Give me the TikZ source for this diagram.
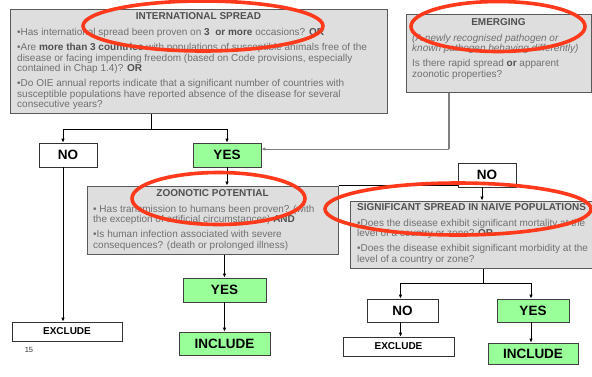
\documentclass[tikz,border=0pt]{standalone}
\usepackage{fontspec}
\setmainfont{Liberation Sans}
\usetikzlibrary{arrows.meta,calc}
\definecolor{boxgray}{RGB}{222,222,222}
\definecolor{txtgray}{RGB}{112,112,112}
\definecolor{ttlgray}{RGB}{80,80,80}
\definecolor{bordgray}{RGB}{90,90,90}
\definecolor{yesgreen}{RGB}{153,255,153}
\definecolor{ringred}{RGB}{255,58,28}
\newcommand\hl[1]{\textbf{\textcolor{ttlgray}{#1}}}
\newcommand\mkbox[7]{\node[#1, minimum width={(#5-#3)*1pt}, minimum height={(#6-#4)*1pt}, inner sep=0pt] (#2) at ({(#3+#5)/2},{(#4+#6)/2}) {#7};}
\begin{document}
\begin{tikzpicture}[x=1pt,y=-1pt,
  graybox/.style={draw=bordgray, line width=1pt, fill=boxgray},
  whitebox/.style={draw=black!80, line width=0.8pt, fill=white, font=\fontsize{13.5}{14}\selectfont\bfseries},
  greenbox/.style={draw=black!75, line width=0.8pt, fill=yesgreen, font=\fontsize{13.5}{14}\selectfont\bfseries},
  smallbox/.style={draw=black!80, line width=0.8pt, fill=white, font=\fontsize{10}{11}\selectfont\bfseries},
  ttl/.style={inner sep=0pt, text=ttlgray, font=\fontsize{10}{11}\selectfont\bfseries},
  body/.style={inner sep=0pt, anchor=north west, align=left, text=txtgray, font=\fontsize{10}{10.4}\selectfont},
  conn/.style={draw=black, line width=0.8pt},
  arr/.style={conn, -{Latex[length=4pt,width=3.6pt]}},
  ring/.style={draw=ringred, line width=3.6pt}
]
\useasboundingbox (0,0) rectangle (592,376);

% ---- boxes ----
\mkbox{graybox}{intl}{10}{9}{387}{113}{}
\mkbox{graybox}{emerg}{406}{14}{591}{92}{}
\mkbox{whitebox}{noA}{39}{143}{97}{167}{NO}
\mkbox{greenbox}{yesA}{193}{143}{261}{167}{YES}
\mkbox{graybox}{zoo}{87}{186}{338}{254}{}
\mkbox{whitebox}{noB}{458}{163}{516}{187}{NO}
\mkbox{graybox}{sig}{350}{201}{598}{268}{}
\mkbox{greenbox}{yesB}{183}{278}{266}{302}{YES}
\mkbox{greenbox}{inclA}{179}{332}{270}{355}{INCLUDE}
\mkbox{smallbox}{exclA}{12}{322}{122}{341}{EXCLUDE}
\mkbox{whitebox}{noC}{367}{299}{438}{322}{NO}
\mkbox{greenbox}{yesC}{497}{299}{569}{322}{YES}
\mkbox{smallbox}{exclB}{343}{337}{454}{356}{EXCLUDE}
\mkbox{greenbox}{inclB}{488}{343}{578}{364}{INCLUDE}

% ---- texts ----
\node[ttl] (intlT) at (198.5,16.5) {INTERNATIONAL SPREAD};
\node[body] (intlB) at (17,28.5) {%
\textbullet Has international spread been proven on \hl{3\ \ or more} occasions? \hl{OR}\\[4.6pt]
\textbullet Are \hl{more than 3 countries} with populations of susceptible animals free of the\\
disease or facing impending freedom (based on Code provisions, especially\\
contained in Chap 1.4)? \hl{OR}\\[4.6pt]
\textbullet Do OIE annual reports indicate that a significant number of countries with\\
susceptible populations have reported absence of the disease for several\\
consecutive years?};

\node[ttl] (emergT) at (498.5,22) {EMERGING};
\node[body] (emergB) at (412,34) {%
\textit{(A newly recognised pathogen or}\\
\textit{known pathogen behaving differently)}\\[4.6pt]
Is there rapid spread \hl{or} apparent\\
zoonotic properties?};

\node[ttl] (zooT) at (212.5,193.5) {ZOONOTIC POTENTIAL};
\node[body] (zooB) at (93,205) {%
\textbullet\ Has transmission to humans been proven? (with\\
the exception of artificial circumstances) \hl{AND}\\[4.6pt]
\textbullet Is human infection associated with severe\\
consequences? (death or prolonged illness)};

\node[ttl, anchor=west] (sigT) at (357,207.5) {SIGNIFICANT SPREAD IN NAIVE POPULATIONS};
\node[body] (sigB) at (357,219) {%
\textbullet Does the disease exhibit significant mortality at the\\
level of a country or zone? \hl{OR}\\[4.6pt]
\textbullet Does the disease exhibit significant morbidity at the\\
level of a country or zone?};

\node[inner sep=0pt, font=\fontsize{7.5}{8}\selectfont, text=black!80] (pg) at (29,350) {15};

% ---- connectors ----
\coordinate (j1) at (151,129);
\coordinate (j2) at (449,149);
\coordinate (j3) at (483,283);
\draw[conn] (intl.south -| j1) -- (j1);
\draw[arr] (j1) -| ([xshift=-5pt]noA.north);
\draw[arr] (j1) -| (yesA.north);
\draw[draw=gray, line width=1.2pt] (emerg.south -| j2) -- (j2);
\draw[arr, draw=gray] (j2) -- (j2 -| yesA.east);
\draw[arr] (yesA.south) -- (yesA.south |- zoo.north);
\draw[conn] (zoo.north east) -- (zoo.north east -| noB.west);
\draw[arr] ([xshift=-5pt]noB.south) -- ([xshift=-5pt]noB.south |- sig.north);
\draw[arr] ([xshift=-5pt]noA.south) -- ([xshift=-5pt]noA.south |- exclA.north);
\draw[arr] (yesB.north |- zoo.south) -- (yesB.north);
\draw[arr] (yesB.south) -- (inclA.north);
\draw[conn] (sig.south -| j3) -- (j3);
\draw[arr] (j3) -| ([xshift=-2pt]noC.north);
\draw[arr] (j3) -| ([xshift=-2pt]yesC.north);
\draw[arr] ([xshift=-2pt]noC.south) -- ([xshift=-2pt]noC.south |- exclB.north);
\draw[arr] ([xshift=-2pt]yesC.south) -- ([xshift=-2pt]yesC.south |- inclB.north);

% ---- red rings ----
\draw[ring] (203,26) ellipse [x radius=120pt, y radius=25pt];
\draw[ring] (498,26.5) ellipse [x radius=87pt, y radius=25pt];
\draw[ring] (218.5,198.5) ellipse [x radius=86.5pt, y radius=26pt];
\draw[ring] (458,209) ellipse [x radius=133pt, y radius=26pt];
\end{tikzpicture}
\end{document}
